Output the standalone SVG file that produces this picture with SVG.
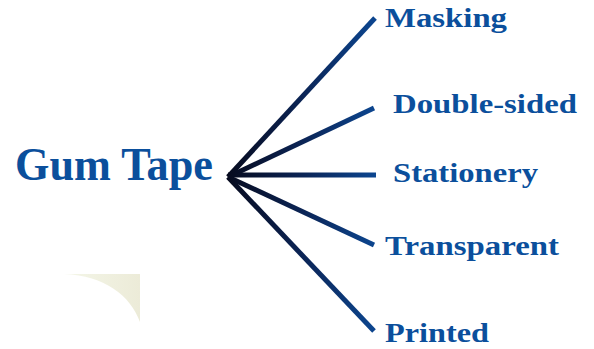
<svg xmlns="http://www.w3.org/2000/svg" width="594" height="349" viewBox="0 0 594 349">
<defs>
<linearGradient id="lg" gradientUnits="userSpaceOnUse" x1="228" y1="0" x2="376" y2="0">
<stop offset="0" stop-color="#070b1f"/>
<stop offset="0.5" stop-color="#0b2455"/>
<stop offset="1" stop-color="#0c4690"/>
</linearGradient>
<linearGradient id="bg" x1="0" y1="0" x2="1" y2="0">
<stop offset="0" stop-color="#f4f6e8"/>
<stop offset="1" stop-color="#ecebd8"/>
</linearGradient>
<style>
.c{stroke:url(#lg);stroke-width:5;stroke-linecap:butt;fill:none}
.t{font-family:"Liberation Serif","Times New Roman",serif;font-weight:bold;fill:#0b4f9c}
</style>
</defs>
<rect width="594" height="349" fill="#ffffff"/>
<path d="M64,274 L140,274 L140,322 C130,295 105,276 64,274 Z" fill="url(#bg)"/>
<g id="connectors">
<line class="c" x1="228" y1="177" x2="375" y2="18"/>
<line class="c" x1="228" y1="177" x2="374" y2="108"/>
<line class="c" x1="228" y1="175" x2="376" y2="175"/>
<line class="c" x1="228" y1="177" x2="374" y2="245"/>
<line class="c" x1="228" y1="177" x2="374" y2="331"/>
</g>
<g id="gum-tape"><text class="t" x="15" y="180" font-size="46" textLength="198" lengthAdjust="spacingAndGlyphs">Gum Tape</text></g>
<g id="masking"><text class="t" x="385" y="27" font-size="28" textLength="122" lengthAdjust="spacingAndGlyphs">Masking</text></g>
<g id="double-sided"><text class="t" x="393" y="113" font-size="28" textLength="184" lengthAdjust="spacingAndGlyphs">Double-sided</text></g>
<g id="stationery"><text class="t" x="393" y="182" font-size="28" textLength="145" lengthAdjust="spacingAndGlyphs">Stationery</text></g>
<g id="transparent"><text class="t" x="385" y="255" font-size="28" textLength="174" lengthAdjust="spacingAndGlyphs">Transparent</text></g>
<g id="printed"><text class="t" x="385" y="342" font-size="28" textLength="104" lengthAdjust="spacingAndGlyphs">Printed</text></g>
</svg>
